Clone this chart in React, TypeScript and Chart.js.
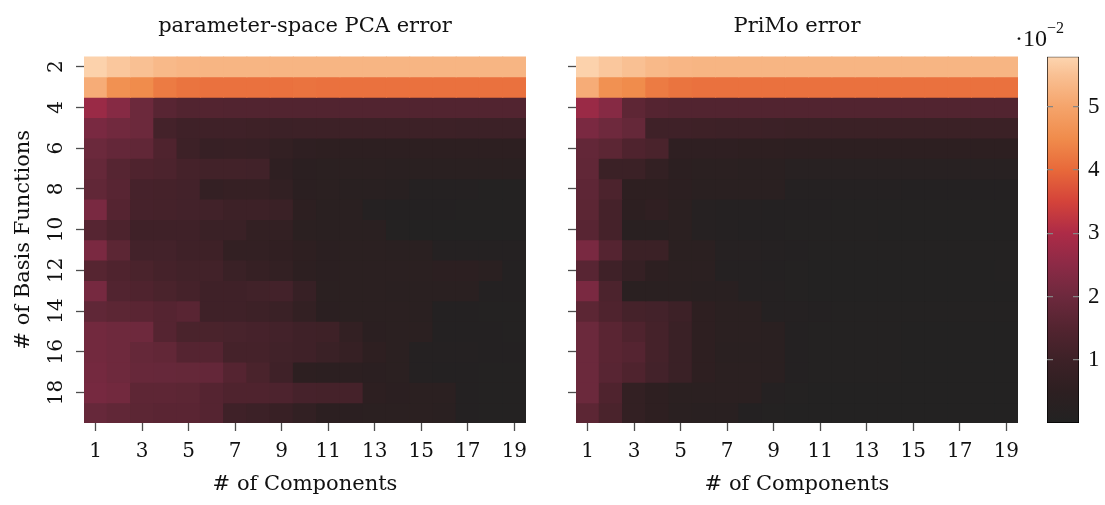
import React, { useEffect, useRef } from "react";
import { Chart, registerables } from "chart.js";

Chart.register(...registerables);

// ---------------- data ----------------
const components = [1, 2, 3, 4, 5, 6, 7, 8, 9, 10, 11, 12, 13, 14, 15, 16, 17, 18, 19];
const basisFunctions = [2, 3, 4, 5, 6, 7, 8, 9, 10, 11, 12, 13, 14, 15, 16, 17, 18, 19];
const xTickValues = [1, 3, 5, 7, 9, 11, 13, 15, 17, 19];
const yTickValues = [2, 4, 6, 8, 10, 12, 14, 16, 18];
const colorbarTicks = [1, 2, 3, 4, 5];
const colorMin = 0;
const colorMax = 5.79;

// errors (x 10^-2), rows = # basis functions 2..19, cols = # components 1..19
const pcaError = [
  [5.75, 5.6, 5.5, 5.38, 5.32, 5.3, 5.3, 5.3, 5.3, 5.3, 5.3, 5.3, 5.3, 5.3, 5.3, 5.3, 5.3, 5.3, 5.3],
  [5.15, 4.6, 4.5, 4.25, 4.15, 4.12, 4.12, 4.12, 4.12, 4.14, 4.12, 4.12, 4.12, 4.12, 4.12, 4.12, 4.12, 4.12, 4.12],
  [2.71, 2.4, 1.98, 1.6, 1.48, 1.5, 1.48, 1.48, 1.48, 1.48, 1.48, 1.48, 1.48, 1.48, 1.48, 1.48, 1.48, 1.48, 1.48],
  [2.2, 2.06, 1.98, 1.16, 1.05, 1.05, 1.05, 1.02, 0.98, 1.0, 1.0, 1.0, 1.0, 1.0, 1.0, 1.0, 0.98, 0.98, 0.98],
  [1.96, 1.83, 1.77, 1.4, 1.0, 0.8, 0.85, 0.82, 0.69, 0.55, 0.52, 0.5, 0.5, 0.5, 0.5, 0.5, 0.48, 0.48, 0.48],
  [1.85, 1.56, 1.4, 1.35, 1.18, 1.12, 1.12, 1.1, 0.56, 0.42, 0.4, 0.4, 0.4, 0.38, 0.38, 0.36, 0.36, 0.35, 0.35],
  [1.77, 1.6, 1.2, 1.18, 1.14, 0.72, 0.78, 0.78, 0.65, 0.42, 0.4, 0.3, 0.3, 0.28, 0.15, 0.15, 0.12, 0.08, 0.08],
  [2.2, 1.54, 1.2, 1.18, 1.14, 1.1, 1.0, 1.0, 0.9, 0.5, 0.38, 0.36, 0.12, 0.1, 0.1, 0.1, 0.08, 0.08, 0.08],
  [1.56, 1.35, 1.05, 1.05, 1.05, 0.9, 0.9, 0.7, 0.68, 0.4, 0.38, 0.38, 0.36, 0.08, 0.06, 0.06, 0.05, 0.05, 0.05],
  [2.21, 1.67, 1.14, 1.14, 1.05, 1.02, 0.69, 0.69, 0.62, 0.53, 0.42, 0.4, 0.4, 0.38, 0.36, 0.15, 0.15, 0.12, 0.12],
  [1.55, 1.4, 1.3, 1.18, 1.12, 1.12, 0.9, 0.78, 0.69, 0.5, 0.42, 0.4, 0.4, 0.4, 0.4, 0.45, 0.45, 0.38, 0.1],
  [2.15, 1.48, 1.41, 1.3, 1.18, 1.05, 1.05, 1.1, 1.14, 0.8, 0.4, 0.4, 0.4, 0.38, 0.38, 0.36, 0.36, 0.1, 0.1],
  [1.75, 1.67, 1.63, 1.54, 1.62, 1.05, 1.05, 1.0, 0.9, 0.69, 0.42, 0.4, 0.4, 0.4, 0.38, 0.1, 0.1, 0.08, 0.08],
  [2.08, 2.02, 2.02, 1.54, 1.3, 1.3, 1.25, 1.2, 1.14, 1.05, 1.02, 0.69, 0.42, 0.4, 0.4, 0.1, 0.1, 0.1, 0.08],
  [2.08, 2.02, 1.85, 1.78, 1.54, 1.54, 1.18, 1.18, 1.1, 1.05, 0.9, 0.78, 0.53, 0.4, 0.15, 0.15, 0.12, 0.1, 0.1],
  [2.11, 2.02, 1.88, 1.87, 1.85, 1.83, 1.54, 1.3, 1.05, 0.5, 0.45, 0.45, 0.42, 0.4, 0.12, 0.1, 0.1, 0.08, 0.08],
  [2.14, 2.08, 1.71, 1.71, 1.67, 1.54, 1.41, 1.41, 1.37, 1.2, 1.18, 1.18, 0.5, 0.42, 0.4, 0.4, 0.1, 0.08, 0.08],
  [1.87, 1.77, 1.67, 1.63, 1.63, 1.54, 1.05, 0.98, 0.85, 0.65, 0.45, 0.42, 0.4, 0.4, 0.4, 0.38, 0.1, 0.08, 0.08],
];

const primoError = [
  [5.75, 5.6, 5.5, 5.38, 5.32, 5.3, 5.3, 5.3, 5.3, 5.3, 5.3, 5.3, 5.3, 5.3, 5.3, 5.3, 5.3, 5.3, 5.3],
  [5.15, 4.6, 4.5, 4.25, 4.15, 4.12, 4.12, 4.12, 4.12, 4.12, 4.12, 4.12, 4.12, 4.12, 4.12, 4.12, 4.12, 4.12, 4.12],
  [2.71, 2.4, 1.71, 1.54, 1.48, 1.48, 1.48, 1.48, 1.48, 1.48, 1.48, 1.48, 1.48, 1.48, 1.48, 1.48, 1.48, 1.48, 1.48],
  [2.21, 2.02, 1.85, 1.05, 1.05, 1.02, 1.0, 1.0, 0.98, 0.95, 0.95, 0.95, 0.95, 0.95, 0.95, 0.95, 0.95, 0.95, 0.95],
  [1.8, 1.67, 1.41, 1.3, 0.56, 0.55, 0.55, 0.53, 0.53, 0.5, 0.5, 0.5, 0.5, 0.5, 0.5, 0.5, 0.5, 0.5, 0.5],
  [1.77, 0.95, 0.95, 0.69, 0.45, 0.4, 0.4, 0.38, 0.36, 0.25, 0.25, 0.25, 0.25, 0.25, 0.25, 0.25, 0.25, 0.25, 0.25],
  [1.72, 1.35, 0.53, 0.53, 0.45, 0.38, 0.36, 0.36, 0.35, 0.15, 0.12, 0.12, 0.12, 0.12, 0.1, 0.1, 0.1, 0.1, 0.1],
  [1.67, 1.18, 0.5, 0.6, 0.4, 0.2, 0.12, 0.12, 0.1, 0.1, 0.1, 0.08, 0.08, 0.08, 0.08, 0.08, 0.08, 0.08, 0.08],
  [1.6, 1.18, 0.3, 0.32, 0.4, 0.2, 0.12, 0.1, 0.1, 0.08, 0.08, 0.08, 0.08, 0.06, 0.06, 0.06, 0.06, 0.06, 0.06],
  [2.2, 1.54, 0.95, 0.95, 0.4, 0.4, 0.2, 0.18, 0.15, 0.1, 0.08, 0.08, 0.08, 0.08, 0.08, 0.08, 0.08, 0.08, 0.08],
  [1.6, 1.05, 0.75, 0.5, 0.4, 0.4, 0.15, 0.12, 0.1, 0.08, 0.06, 0.06, 0.06, 0.06, 0.06, 0.06, 0.06, 0.06, 0.08],
  [2.21, 1.35, 0.35, 0.35, 0.35, 0.32, 0.3, 0.15, 0.12, 0.08, 0.06, 0.06, 0.06, 0.06, 0.06, 0.06, 0.06, 0.06, 0.06],
  [1.67, 1.41, 1.18, 1.14, 1.0, 0.53, 0.4, 0.4, 0.15, 0.12, 0.1, 0.08, 0.08, 0.08, 0.08, 0.08, 0.08, 0.08, 0.08],
  [1.96, 1.63, 1.41, 1.18, 0.9, 0.53, 0.4, 0.4, 0.38, 0.1, 0.08, 0.08, 0.08, 0.08, 0.06, 0.06, 0.06, 0.06, 0.06],
  [1.96, 1.63, 1.54, 1.18, 0.9, 0.53, 0.38, 0.38, 0.35, 0.1, 0.08, 0.08, 0.08, 0.08, 0.06, 0.06, 0.06, 0.06, 0.06],
  [1.96, 1.6, 1.41, 1.14, 0.9, 0.53, 0.4, 0.4, 0.35, 0.1, 0.08, 0.08, 0.08, 0.08, 0.06, 0.06, 0.06, 0.06, 0.06],
  [1.96, 1.41, 0.69, 0.53, 0.4, 0.4, 0.4, 0.4, 0.15, 0.08, 0.06, 0.06, 0.06, 0.06, 0.06, 0.06, 0.06, 0.06, 0.06],
  [1.67, 1.3, 0.69, 0.53, 0.35, 0.3, 0.3, 0.1, 0.08, 0.06, 0.06, 0.06, 0.06, 0.06, 0.06, 0.06, 0.06, 0.06, 0.06],
];

// colormap stops (value, colour)
const colorStops: [number, string][] = [
  [0.0, "#222222"],
  [0.5, "#2d1f21"],
  [1.0, "#3d2127"],
  [1.5, "#532430"],
  [2.0, "#6d293d"],
  [2.5, "#8c2a46"],
  [3.0, "#ad2b47"],
  [3.5, "#d4433a"],
  [4.0, "#e8693a"],
  [4.5, "#f08c4c"],
  [5.0, "#f5a46b"],
  [5.5, "#f9c093"],
  [5.79, "#fdd5b0"],
];

// ---------------- helpers ----------------
function hexToRgb(h: string): number[] {
  const n = parseInt(h.slice(1), 16);
  return [(n >> 16) & 255, (n >> 8) & 255, n & 255];
}

function colorFor(v: number): string {
  const x = Math.max(colorMin, Math.min(colorMax, v));
  for (let i = 1; i < colorStops.length; i++) {
    const [v1, c1] = colorStops[i];
    const [v0, c0] = colorStops[i - 1];
    if (x <= v1) {
      const t = (x - v0) / (v1 - v0);
      const a = hexToRgb(c0);
      const b = hexToRgb(c1);
      const r = a.map((ai, k) => Math.round(ai + (b[k] - ai) * t));
      return `rgb(${r[0]},${r[1]},${r[2]})`;
    }
  }
  return colorStops[colorStops.length - 1][1];
}

const SERIF = "'DejaVu Serif', serif";
const MATH = "'Liberation Serif', serif";
const TEXT_COLOR = "#111111";
const TICK_COLOR = "#4d4d4d";

function heatmapConfig(
  values: number[][],
  title: string,
  showYLabels: boolean,
  yAxisWidth: number,
  padRight: number
): any {
  return {
    type: "bar",
    data: {
      labels: components.map(String),
      datasets: basisFunctions.map((b, r) => ({
        label: String(b),
        data: components.map(() => [b - 0.5, b + 0.5]),
        backgroundColor: values[r].map(colorFor),
        borderWidth: 0,
        grouped: false,
        categoryPercentage: 1,
        barPercentage: 1,
        inflateAmount: 0.5,
      })),
    },
    options: {
      animation: false,
      responsive: false,
      events: [],
      layout: { padding: { left: 0, right: padRight, top: 0, bottom: 0 } },
      plugins: {
        legend: { display: false },
        tooltip: { enabled: false },
        title: {
          display: true,
          fullSize: false,
          text: title,
          color: TEXT_COLOR,
          font: { family: SERIF, size: 21, weight: "normal", lineHeight: 1.2 },
          padding: { top: 13.7, bottom: 17.6 },
        },
      },
      scales: {
        x: {
          type: "category",
          offset: true,
          grid: {
            offset: false,
            drawOnChartArea: false,
            drawTicks: true,
            tickLength: 8,
            tickColor: TICK_COLOR,
            tickWidth: 1.3,
          },
          border: { display: false },
          ticks: {
            autoSkip: false,
            maxRotation: 0,
            minRotation: 0,
            padding: 9.2,
            color: TEXT_COLOR,
            font: { family: SERIF, size: 20, lineHeight: 1.2 },
          },
          afterBuildTicks: (scale: any) => {
            scale.ticks = scale.ticks.filter((t: any) =>
              xTickValues.includes(components[t.value])
            );
          },
          title: {
            display: true,
            text: "# of Components",
            color: TEXT_COLOR,
            font: { family: SERIF, size: 21, lineHeight: 1.2 },
            padding: { top: 0, bottom: 7.4 },
          },
          afterFit: (scale: any) => {
            scale.height = 82;
          },
        },
        y: {
          type: "linear",
          min: 1.5,
          max: 19.5,
          reverse: true,
          grid: {
            drawOnChartArea: false,
            drawTicks: true,
            tickLength: 8,
            tickColor: TICK_COLOR,
            tickWidth: 1.3,
          },
          border: { display: false },
          ticks: {
            display: showYLabels,
            minRotation: 90,
            maxRotation: 90,
            crossAlign: "center",
            padding: 6.3,
            color: TEXT_COLOR,
            font: { family: SERIF, size: 20, lineHeight: 1.2 },
          },
          afterBuildTicks: (scale: any) => {
            scale.ticks = yTickValues.map((v) => ({ value: v }));
          },
          title: {
            display: showYLabels,
            text: "# of Basis Functions",
            color: TEXT_COLOR,
            font: { family: SERIF, size: 21, lineHeight: 1.2 },
            padding: { top: 11.4, bottom: 0 },
          },
          afterFit: (scale: any) => {
            scale.width = yAxisWidth;
          },
        },
      },
    },
  };
}

function colorbarConfig(): any {
  return {
    type: "bar",
    data: {
      labels: ["scale"],
      datasets: [
        {
          data: [[colorMin, colorMax]],
          backgroundColor: (ctx: any) => {
            const chart = ctx.chart;
            const ys = chart.scales && chart.scales.y;
            if (!chart.chartArea || !ys) return colorStops[0][1];
            const y0 = ys.getPixelForValue(colorMin);
            const y1 = ys.getPixelForValue(colorMax);
            const g = chart.ctx.createLinearGradient(0, y0, 0, y1);
            colorStops.forEach(([v, c]) =>
              g.addColorStop((v - colorMin) / (colorMax - colorMin), c)
            );
            return g;
          },
          borderColor: "#000000",
          borderWidth: 1,
          borderSkipped: false,
          categoryPercentage: 1,
          barPercentage: 1,
          xAxisID: "x",
          yAxisID: "y",
        },
      ],
    },
    options: {
      animation: false,
      responsive: false,
      events: [],
      layout: { padding: { left: 0, right: 0, top: 0, bottom: 82 } },
      plugins: {
        legend: { display: false },
        tooltip: { enabled: false },
        // exponent of the colour scale: "·10" with superscript "−2"
        title: {
          display: true,
          fullSize: false,
          align: "start",
          text: "−2",
          color: TEXT_COLOR,
          font: { family: MATH, size: 16, weight: "normal", lineHeight: 1 },
          padding: { top: 21, bottom: -10 },
        },
        subtitle: {
          display: true,
          fullSize: true,
          align: "start",
          text: "·10",
          color: TEXT_COLOR,
          font: { family: MATH, size: 24, weight: "normal", lineHeight: 1 },
          padding: { top: 1, bottom: 4.7 },
        },
      },
      scales: {
        x: { type: "category", display: false, offset: true },
        y: {
          type: "linear",
          position: "right",
          min: colorMin,
          max: colorMax,
          grid: {
            drawOnChartArea: true,
            drawTicks: false,
            color: "#858585",
            lineWidth: 1.2,
            z: 1,
          },
          border: { display: false, dash: [6, 20] },
          ticks: {
            padding: 9,
            color: TEXT_COLOR,
            font: { family: MATH, size: 23 },
          },
          afterBuildTicks: (scale: any) => {
            scale.ticks = colorbarTicks.map((v) => ({ value: v }));
          },
          afterFit: (scale: any) => {
            scale.width = 26;
          },
        },
        yLeft: {
          type: "linear",
          position: "left",
          display: true,
          grid: { display: false },
          border: { display: false },
          ticks: { display: false },
          afterFit: (scale: any) => {
            scale.width = 32;
          },
        },
      },
    },
  };
}

export default function App() {
  const leftRef = useRef<HTMLCanvasElement>(null);
  const rightRef = useRef<HTMLCanvasElement>(null);
  const barRef = useRef<HTMLCanvasElement>(null);

  useEffect(() => {
    const charts: Chart[] = [];
    if (leftRef.current)
      charts.push(
        new Chart(
          leftRef.current,
          heatmapConfig(pcaError, "parameter-space PCA error", true, 84, 24)
        )
      );
    if (rightRef.current)
      charts.push(
        new Chart(rightRef.current, heatmapConfig(primoError, "PriMo error", false, 36, 22))
      );
    if (barRef.current) charts.push(new Chart(barRef.current, colorbarConfig()));
    return () => charts.forEach((c) => c.destroy());
  }, []);

  return (
    <div
      style={{
        position: "fixed",
        left: 0,
        top: 0,
        width: 1105,
        height: 505,
        background: "#ffffff",
        overflow: "hidden",
      }}
    >
      <canvas
        ref={leftRef}
        width={550}
        height={505}
        style={{ position: "absolute", left: 0, top: 0 }}
      />
      <canvas
        ref={rightRef}
        width={500}
        height={505}
        style={{ position: "absolute", left: 540, top: 0 }}
      />
      <canvas
        ref={barRef}
        width={90}
        height={505}
        style={{ position: "absolute", left: 1015, top: 0 }}
      />
    </div>
  );
}
